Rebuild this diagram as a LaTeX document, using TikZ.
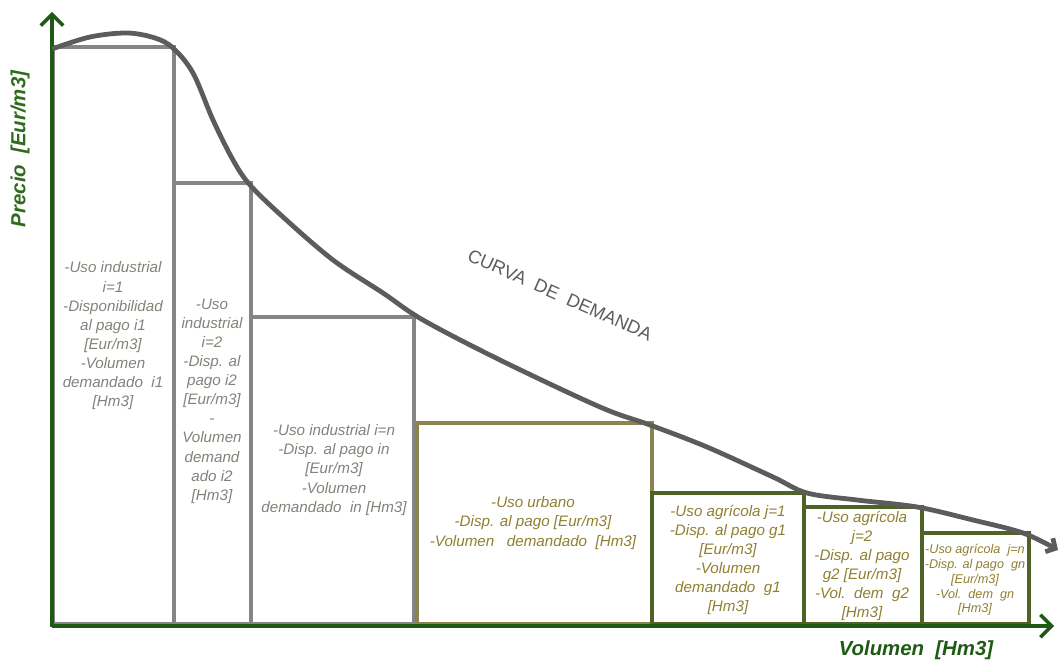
\documentclass[tikz,border=0pt]{standalone}
\usepackage{fontspec}
\setmainfont{Liberation Sans}
\usetikzlibrary{arrows.meta}

\definecolor{ejeverde}{HTML}{1E5A14}
\definecolor{rotverde}{HTML}{2E6B1E}
\definecolor{curvagris}{HTML}{5C5C5C}
\definecolor{bordegris}{HTML}{858585}
\definecolor{textogris}{HTML}{85817A}
\definecolor{bordeurb}{HTML}{8C8450}
\definecolor{bordeagr}{HTML}{4F6228}
\definecolor{textoocre}{HTML}{8F7F30}

\tikzset{
  cajagris/.style={draw=bordegris, line width=2.6pt},
  cajaurb/.style={draw=bordeurb, line width=2.6pt},
  cajaagr/.style={draw=bordeagr, line width=2.6pt},
  texto/.style={align=center, inner sep=0pt,
    font=\fontsize{10.8}{13.6}\selectfont\itshape},
  textochico/.style={align=center, inner sep=0pt,
    font=\fontsize{9}{10.5}\selectfont\itshape},
  eje/.style={draw=ejeverde, -{Straight Barb[length=8pt,width=16pt,line width=2.4pt]}},
  curva/.style={draw=curvagris, line width=3.4pt,
    -{Straight Barb[length=5pt,width=11pt]}},
  rotulo/.style={text=rotverde, font=\fontsize{14.5}{16}\selectfont\bfseries\itshape}
}

\begin{document}
\begin{tikzpicture}[x=0.025cm, y=-0.025cm]
\useasboundingbox (0,0) rectangle (1061,662);

% cajas de uso industrial
\draw[cajagris] (53,47) rectangle (174,624);
\draw[cajagris] (174,183) rectangle (251,624);
\draw[cajagris] (251,317) rectangle (414,624);
% uso urbano
\draw[cajaurb] (417,423) rectangle (652,624);
% uso agricola
\draw[cajaagr] (652,493) rectangle (804,624);
\draw[cajaagr] (804,507) rectangle (922,624);
\draw[cajaagr] (922,533) rectangle (1029,624);

% ejes
\coordinate (O) at (52,626);
\coordinate (ymax) at (52,12);
\coordinate (xmax) at (1054,626);
\draw[eje, line width=2.2pt] (52,627) -- (ymax);
\draw[eje, line width=3.4pt] (O) -- (xmax);

% curva de demanda
\draw[curva] plot[smooth, tension=0.55] coordinates {(52,49) (90,37) (127,33)
  (155,38) (173,48) (193,73) (213,120) (233,160) (250,185) (283,217)
  (333,260) (383,293) (423,320) (500,360) (600,407) (650,425) (707,447)
  (773,477) (807,493) (857,500) (917,507) (973,520) (1023,533) (1058,550)};

\node[text=curvagris, rotate=-24, font=\fontsize{13}{15}\selectfont]
  (curvatxt) at (560,295) {CURVA\ \ DE\ \ DEMANDA};

% textos de las cajas
\node[texto, text=textogris] (ind1) at (113,336)
  {-Uso industrial\\i=1\\-Disponibilidad\\al pago i1\\{[Eur/m3]}\\-Volumen\\demandado\ \ i1\\{[Hm3]}};
\node[texto, text=textogris] (ind2) at (212,401)
  {-Uso\\industrial\\i=2\\-Disp. al\\pago i2\\{[Eur/m3]}\\-\\Volumen\\demand\\ado i2\\{[Hm3]}};
\node[texto, text=textogris] (indn) at (334,470)
  {-Uso industrial i=n\\-Disp. al pago in\\{[Eur/m3]}\\-Volumen\\demandado\ \ in [Hm3]};
\node[texto, text=textoocre] (urb) at (533,523)
  {-Uso urbano\\-Disp. al pago [Eur/m3]\\-Volumen\ \ \ demandado\ \ [Hm3]};
\node[texto, text=textoocre] (agr1) at (728,560)
  {-Uso agrícola j=1\\-Disp. al pago g1\\{[Eur/m3]}\\-Volumen\\demandado\ \ g1\\{[Hm3]}};
\node[texto, text=textoocre] (agr2) at (862,566)
  {-Uso agrícola\\j=2\\-Disp. al pago\\g2 [Eur/m3]\\-Vol.\ \ dem\ \ g2\\{[Hm3]}};
\node[textochico, text=textoocre] (agrn) at (975,580)
  {-Uso agrícola\ \ j=n\\-Disp. al pago\ \ gn\\{[Eur/m3]}\\-Vol.\ \ dem\ \ gn\\{[Hm3]}};

% rotulos de los ejes
\node[rotulo, rotate=90] (precio) at (20,149) {Precio\ \ [Eur/m3]};
\node[rotulo, text=ejeverde] (volumen) at (916,650) {Volumen\ \ [Hm3]};
\end{tikzpicture}
\end{document}
